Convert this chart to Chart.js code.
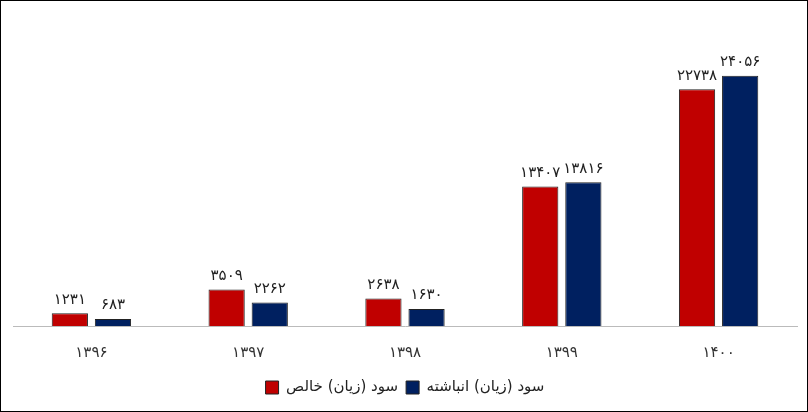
<!DOCTYPE html>
<html><head><meta charset="utf-8">
<script src="https://cdn.jsdelivr.net/npm/chart.js@4"></script>
<style>
body{margin:0;background:#fff}
#wrap{width:806px;height:410px;border:1px solid #000;position:relative}
</style></head><body>
<div id="wrap"><canvas id="c" width="806" height="410"></canvas></div>
<script>
const years = ['1396', '1397', '1398', '1399', '1400'];
const netProfit = [1231, 3509, 2638, 13407, 22738];
const accumProfit = [683, 2262, 1630, 13816, 24056];
const seriesNames = ['سود (زیان) خالص', 'سود (زیان) انباشته'];

function fa(v) {
    return String(v).replace(/[0-9]/g, d => '۰۱۲۳۴۵۶۷۸۹'[d]);
}

const labelPlugin = {
    id: 'labels',
    afterDatasetsDraw(chart) {
        const ctx = chart.ctx;
        ctx.save();
        ctx.font = '15px "DejaVu Sans"';
        ctx.fillStyle = '#222';
        ctx.textAlign = 'center';
        ctx.textBaseline = 'bottom';
        chart.data.datasets.forEach((ds, i) => {
            chart.getDatasetMeta(i).data.forEach((bar, j) => {
                ctx.fillText(fa(ds.data[j]), bar.x, bar.y - 6);
            });
        });
        ctx.restore();
    }
};

new Chart(document.getElementById('c').getContext('2d'), {
    type: 'bar',
    data: {
        labels: years.map(fa),
        datasets: [
            { label: seriesNames[0], data: netProfit, backgroundColor: '#C00000', borderColor: '#222', borderWidth: 1 },
            { label: seriesNames[1], data: accumProfit, backgroundColor: '#002060', borderColor: '#222', borderWidth: 1 }
        ]
    },
    options: {
        responsive: false,
        animation: false,
        layout: { padding: { left: 12, right: 10, top: 18, bottom: 6 } },
        datasets: { bar: { categoryPercentage: 0.55, barPercentage: 0.84 } },
        scales: {
            x: {
                grid: { display: false },
                border: { color: '#bbb' },
                ticks: { color: '#333', font: { size: 15, family: 'DejaVu Sans' }, padding: 10 }
            },
            y: { display: false, min: 0, max: 29500 }
        },
        plugins: {
            legend: {
                position: 'bottom',
                labels: { boxWidth: 13, boxHeight: 13, color: '#222', font: { size: 15, family: 'DejaVu Sans' }, padding: 8 }
            },
            tooltip: { enabled: false }
        }
    },
    plugins: [labelPlugin]
});
</script>
</body></html>
